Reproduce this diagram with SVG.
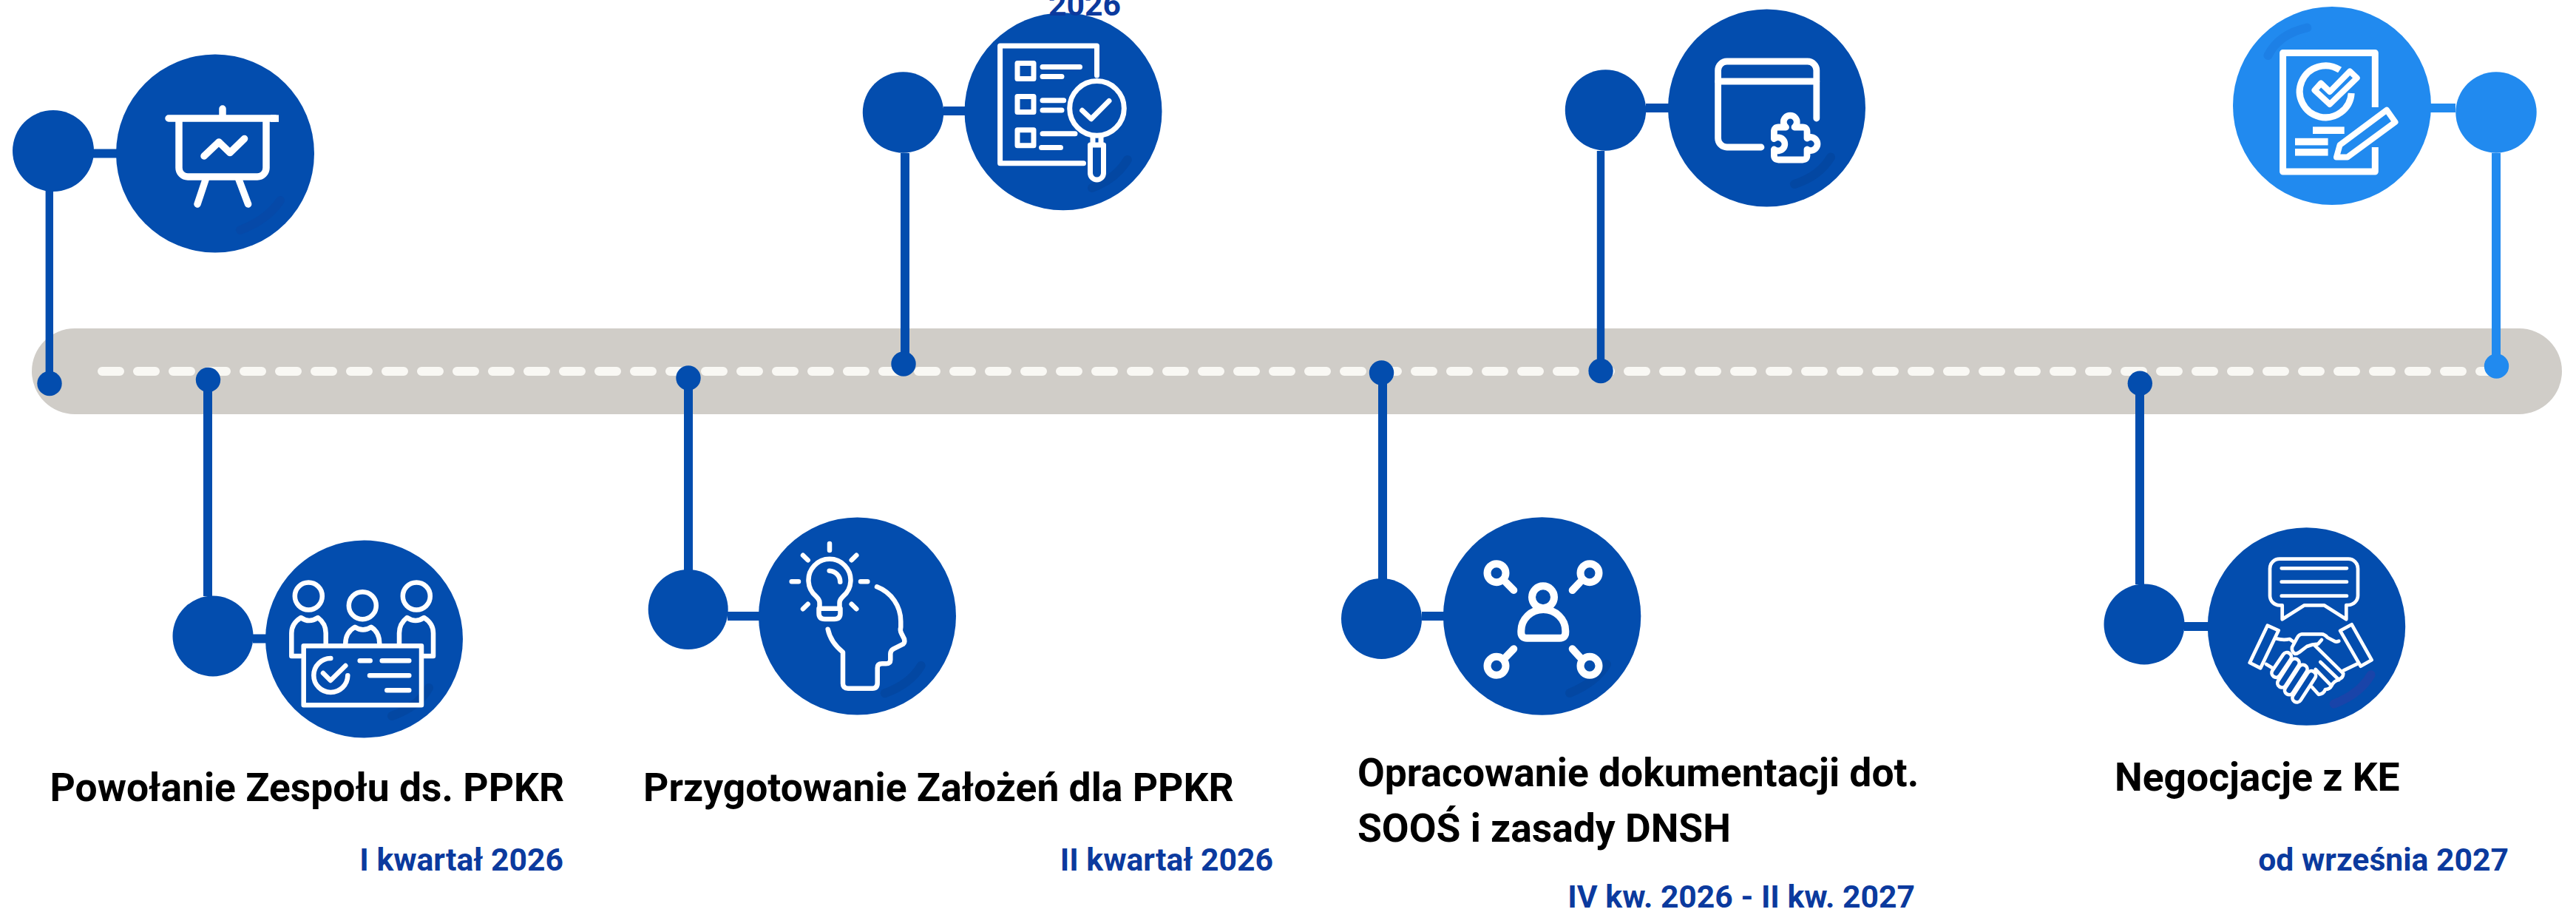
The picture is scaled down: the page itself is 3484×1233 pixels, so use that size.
<svg xmlns="http://www.w3.org/2000/svg" width="3484" height="1233" viewBox="0 0 3484 1233">
<style>
.blue{fill:#034DAE}
.sky{fill:#218AEF}
.stemB{stroke:#034DAE;stroke-width:12;fill:none}
.thin{stroke-width:10.400}
.stemS{stroke:#218AEF;stroke-width:12;fill:none}
.ic{fill:none;stroke:#fff;stroke-width:7;stroke-linecap:round;stroke-linejoin:round}
.arc{fill:none;stroke:#0347A2;stroke-width:12;stroke-linecap:round}
.t{font-family:Roboto,"Liberation Sans",sans-serif;font-weight:700;font-size:53.400px;fill:#000}
.d{font-family:Roboto,"Liberation Sans",sans-serif;font-weight:700;font-size:42.700px;fill:#0B3A9E}
</style>
<rect id="track" x="43" y="444" width="3422" height="116" rx="58" fill="#D0CDC8"/>
<line id="track-dashes" x1="138" y1="502" x2="3378" y2="502" stroke="#F9F8F4" stroke-width="12" stroke-linecap="round" stroke-dasharray="24 24"/>
<g id="connectors">
<path class="stemB thin" d="M66.800 258V518"/><path class="stemB" d="M126 207.500H158"/>
<path class="stemB" d="M281 514V806M342 863.500H360"/>
<path class="stemB" d="M931 511V771M984 833H1027"/>
<path class="stemB" d="M1224 207V492M1276 150H1306"/>
<path class="stemB" d="M1870 504V783M1923 833H1953"/>
<path class="stemB thin" d="M2165 204V501"/><path class="stemB" d="M2226 146H2257"/>
<path class="stemB" d="M2894 518V790M2954 847H2987"/>
<path class="stemS" d="M3376 207V495M3321 146H3287"/>
</g>
<g id="node-1">
<circle class="blue" cx="72" cy="204" r="55"/><circle class="blue" cx="67" cy="518.500" r="16.700"/><circle class="blue" cx="291" cy="207.500" r="134"/>
<path class="arc" style="stroke:#0649A8" d="M379 271Q362 297 325 311"/>
<g class="ic" style="stroke-width:9.500"><path d="M228 160H372M301 147V156"/><path d="M242 164V227a12 12 0 0 0 12 12H348a12 12 0 0 0 12-12V164"/><path d="M279 240L267 276M322 240L335.600 276"/><path d="M276 211L296 192L311 206.500L330.600 187.500"/></g>
<rect x="366" y="155.400" width="11" height="9.500" fill="#fff"/>
</g>
<g id="node-2">
<circle class="blue" cx="288" cy="860" r="54.500"/><circle class="blue" cx="281.500" cy="513.500" r="16.700"/><circle class="blue" cx="492.500" cy="864" r="133.500"/>
<path class="arc" d="M580 930Q566 955 530 968"/>
<g class="ic" style="stroke-width:6.500"><circle cx="417.300" cy="806" r="18.500"/><circle cx="490.300" cy="818.700" r="18.500"/><circle cx="563.300" cy="806" r="18.500"/>
<path d="M407 887H394.300V856Q394.300 843 407 835Q418 843 430 835Q440.700 843 440.700 856V870"/>
<path d="M467.300 870Q467.300 855 480 847.700Q491 855 502 847.700Q513.300 855 513.300 870"/>
<path d="M573 887H586V856Q586 843 573.500 835Q562 843 550.500 835Q540 843 540 856V870"/>
<rect x="410.700" y="873.300" width="159.300" height="80"/>
<path d="M447.300 890A23 23 0 1 0 470.300 913.300"/><path d="M437 910L447 920L467.300 900"/>
<path d="M486.700 893.300H500.700M516.700 893.300H553.300M500 913.300H553.300M523.300 933.300H553.300"/></g>
</g>
<g id="node-3">
<circle class="blue" cx="930.700" cy="824" r="54"/><circle class="blue" cx="931" cy="511" r="16.700"/><circle class="blue" cx="1159.500" cy="833" r="133.500"/>
<path class="arc" d="M1245.700 900Q1231 925 1196.700 937.300"/>
<g class="ic" style="stroke-width:6.500"><path d="M1108.500 822.700V815c0-4-2-6-5-9a28.500 28.500 0 1 1 37 0c-3 3-5 5-5 9V822.700"/><path d="M1107.500 822.700H1136.500V829q0 8-8 8H1115.500q-8 0-8-8Z"/><path d="M1121.700 771.700A15 15 0 0 1 1136.300 786.700"/>
<path d="M1122 735V744M1086 750.700L1092.700 757.300M1158.300 750.700L1151.700 757.300M1070.700 786.300H1080M1164 786.300H1173.300M1086 823.300L1092.700 816.700M1151.700 816.700L1158.300 823.300"/>
<path d="M1186 793.300C1206 801 1218.300 820 1218.300 840V848Q1217 852 1219 856L1223 864Q1224 869 1221.700 870.700L1208.300 877.300Q1204.300 879.500 1204.300 884V892Q1204.300 897.300 1198.300 897.300H1193Q1186.700 897.300 1186.700 903V923Q1186.700 930.700 1180 930.700H1147Q1140 930.700 1140 924V881.700C1129 873 1122 862 1119.700 850.700"/></g>
</g>
<g id="node-4">
<circle class="blue" cx="1221.500" cy="152" r="54.700"/><circle class="blue" cx="1222" cy="492" r="16.700"/><circle class="blue" cx="1438" cy="150.700" r="133.500"/>
<path class="arc" d="M1524.800 216Q1510 241 1477 254"/>
<g class="ic"><path d="M1483.500 102V62H1352.600V220.700H1465.500"/>
<rect x="1376" y="85.400" width="22" height="21"/><rect x="1376" y="130.400" width="22" height="21"/><rect x="1376" y="175.700" width="22" height="21"/>
<path d="M1410 90.400H1460.500M1410 103.600H1436M1410 135.700H1438.700M1410 149H1436M1410 180.700H1454M1408.500 199.600H1434.500"/>
<circle cx="1483.500" cy="146.400" r="36.800"/><path d="M1478 184V193M1489 184V193"/><path d="M1474.500 196H1492.500V234a9 9 0 0 1-18 0Z"/><path d="M1463.600 149.300L1475.800 160.700L1500 136.400"/></g>
</g>
<g id="node-5">
<circle class="blue" cx="1868.500" cy="836.500" r="54.500"/><circle class="blue" cx="1868.500" cy="504" r="16.700"/><circle class="blue" cx="2085.600" cy="833" r="133.700"/>
<path class="arc" d="M2173 898Q2159 922 2123 937"/>
<g class="ic" style="stroke-width:10"><circle cx="2087" cy="807.300" r="15"/><path d="M2065.300 862.700H2109.300q8 0 8-8V853a30 29 0 0 0-60 0V854.700q0 8 8 8Z"/>
<circle cx="2024" cy="774.700" r="12.500"/><circle cx="2150" cy="774.700" r="12.500"/><circle cx="2024" cy="900.300" r="12.500"/><circle cx="2150" cy="900.300" r="12.500"/>
<path d="M2036.700 787.300L2047.300 798M2136.700 787.300L2126.700 798M2036.700 888.300L2047.300 877.300M2136.700 888.300L2126.700 877.300"/></g>
</g>
<g id="node-6">
<circle class="blue" cx="2171.500" cy="149" r="54.700"/><circle class="blue" cx="2165" cy="501.500" r="16.700"/><circle class="blue" cx="2389.500" cy="146" r="133.500"/>
<path class="arc" d="M2476 212.500Q2461 238 2427 249"/>
<g class="ic" style="stroke-width:8.800"><path d="M2456.800 160V95a12 12 0 0 0-12-12H2335.600a12 12 0 0 0-12 12V187a12 12 0 0 0 12 12H2382"/><path d="M2323.600 110H2456.800"/>
<path d="M2399.400 187.600V178q0-6 6-6H2415.500A9 9 0 1 1 2427 172H2438q6 0 6 6V187A9 9 0 1 1 2444 202V210q0 6-6 6H2405.400q-6 0-6-6V202A9 9 0 1 0 2399.400 187.600Z"/></g>
</g>
<g id="node-7">
<circle class="blue" cx="2900" cy="844" r="54.500"/><circle class="blue" cx="2894.300" cy="518.300" r="16.700"/><circle class="blue" cx="3119.500" cy="847" r="133.700"/>
<path class="arc" style="stroke:#1944A9" d="M3206.700 912.300Q3192 938 3156.700 951.700"/>
<g class="ic" style="stroke-width:4.700"><path d="M3083 755.700H3176a13 13 0 0 1 13 13V805a13 13 0 0 1-13 13H3173.300V837.300L3143.300 818.300H3116.700L3086.700 837.300V818.300H3083a13 13 0 0 1-13-13V768.700a13 13 0 0 1 13-13Z"/>
<path d="M3085.700 768.300H3174M3085.700 786.700H3174M3085.700 805.700H3174"/>
<path d="M3066.700 845.700L3081.700 852.300L3057.300 903.300L3042.700 896Z"/><path d="M3180.700 844.300L3165 852.700L3192.700 900.700L3207.700 892.300Z"/>
<path d="M3078.300 863.300Q3088 866 3096.700 864L3102.700 868.300"/>
<path d="M3163.300 866.700Q3160 868 3158.300 867.300L3148 862Q3144 857.300 3140 857.300H3113.300Q3109 858 3106.700 862.700L3100 875Q3099 881 3104 884Q3107 884 3110 881.700L3120 874Q3127 871 3135 870.700L3140 865"/>
<path d="M3130.700 872.700L3169.300 910.700Q3169 917 3163.300 918.300M3169.300 906.700L3190 896.700"/>
<path d="M3138.300 895L3163.300 919M3131.700 905L3153.300 927.300M3163.300 919Q3156 921 3153.300 927.300Q3151 932 3145 932Q3143 938 3136 939L3127 929M3065 898L3073.300 903"/>
<g fill="#034DAE"><rect x="3079.700" y="880" width="12" height="38" rx="6" transform="rotate(34 3085.700 899)"/><rect x="3089" y="888" width="12" height="44" rx="6" transform="rotate(33 3095 910)"/><rect x="3099.300" y="896" width="12" height="46" rx="6" transform="rotate(33 3105.300 919)"/><rect x="3110.300" y="904.300" width="12" height="48" rx="6" transform="rotate(33 3116.300 928.300)"/></g></g>
</g>
<g id="node-8">
<circle class="sky" cx="3376" cy="152" r="54.700"/><circle class="sky" cx="3376.500" cy="495" r="16.700"/><circle class="sky" cx="3154" cy="143" r="134"/>
<path class="arc" style="stroke:#1D80E6" d="M3120.300 37.500Q3082 46 3067.500 75"/>
<g class="ic" style="stroke-width:9;stroke-linecap:butt"><path d="M3212.300 145V71.400H3087.600V232H3212.300V199"/><path d="M3164.600 94.600A35 35 0 1 0 3180.200 126"/></g>
<g class="ic" style="stroke-width:8"><path d="M3130.500 122L3139 112.500L3151 124L3178.200 96.400L3187.700 105.400L3151 141Z"/><path d="M3228 148.700L3239.500 165L3174.800 212.500H3160L3164.600 196Z"/></g>
<g fill="#fff"><rect x="3128" y="171.400" width="42.700" height="9.600"/><rect x="3104" y="186.800" width="44.600" height="9.600"/><rect x="3104" y="201" width="44.600" height="9.600"/></g>
</g>
<g id="labels">
<text class="d" x="1418" y="21">2026</text>
<text class="t" x="67.500" y="1083">Powołanie Zespołu ds. PPKR</text>
<text class="d" x="762" y="1177" text-anchor="end">I kwartał 2026</text>
<text class="t" x="870" y="1083">Przygotowanie Założeń dla PPKR</text>
<text class="d" x="1722" y="1177" text-anchor="end">II kwartał 2026</text>
<text class="t" x="1836" y="1063">Opracowanie dokumentacji dot.</text>
<text class="t" x="1836" y="1138">SOOŚ i zasady DNSH</text>
<text class="d" x="2590" y="1227" text-anchor="end">IV kw. 2026 - II kw. 2027</text>
<text class="t" x="2860" y="1069">Negocjacje z KE</text>
<text class="d" x="3393" y="1177" text-anchor="end">od września 2027</text>
</g>
</svg>
